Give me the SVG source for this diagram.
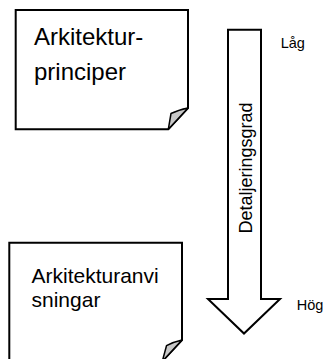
<svg xmlns="http://www.w3.org/2000/svg" width="323" height="359" viewBox="0 0 323 359">
  <style>
    .page { fill: #ffffff; stroke: #000000; stroke-width: 2; stroke-linejoin: miter; }
    .fold { fill: #c8c8c8; stroke: #000000; stroke-width: 1.5; stroke-linejoin: round; }
    .arrow { fill: #ffffff; stroke: #000000; stroke-width: 2; stroke-linejoin: miter; }
    .lbl { font-family: "Liberation Sans", Arial, sans-serif; fill: #000000; }
  </style>

  <!-- Document: Arkitekturprinciper -->
  <g id="node-principer">
    <path class="page" d="M15.7,10 H188 V108 L168.3,129.3 H15.7 Z"/>
    <path class="fold" d="M168.3,129.3 L171,113.5 Q178,110 188,108 Z"/>
    <text class="lbl" x="34" y="45" font-size="24">Arkitektur-</text>
    <text class="lbl" x="34" y="79.5" font-size="24">principer</text>
  </g>

  <!-- Document: Arkitekturanvisningar -->
  <g id="node-anvisningar">
    <path class="page" d="M9.3,242.7 H182 V340 L162.3,361.3 H9.3 Z"/>
    <path class="fold" d="M162.3,361.3 L166.5,345.7 Q173,342 182,340 Z"/>
    <text class="lbl" x="31.5" y="283.3" font-size="21">Arkitekturanvi</text>
    <text class="lbl" x="31.5" y="307.3" font-size="21">sningar</text>
  </g>

  <!-- Level of detail arrow -->
  <g id="connectors">
    <path class="arrow" d="M228,29.7 H261 V299 H280 L244,333.5 L208,299 H228 Z"/>
  </g>

  <g id="labels">
    <text class="lbl" font-size="18" transform="translate(251.5,168) rotate(-90)" text-anchor="middle">Detaljeringsgrad</text>
    <text class="lbl" x="280.7" y="47.7" font-size="14.5">Låg</text>
    <text class="lbl" x="296.7" y="310" font-size="14.5">Hög</text>
  </g>
</svg>
